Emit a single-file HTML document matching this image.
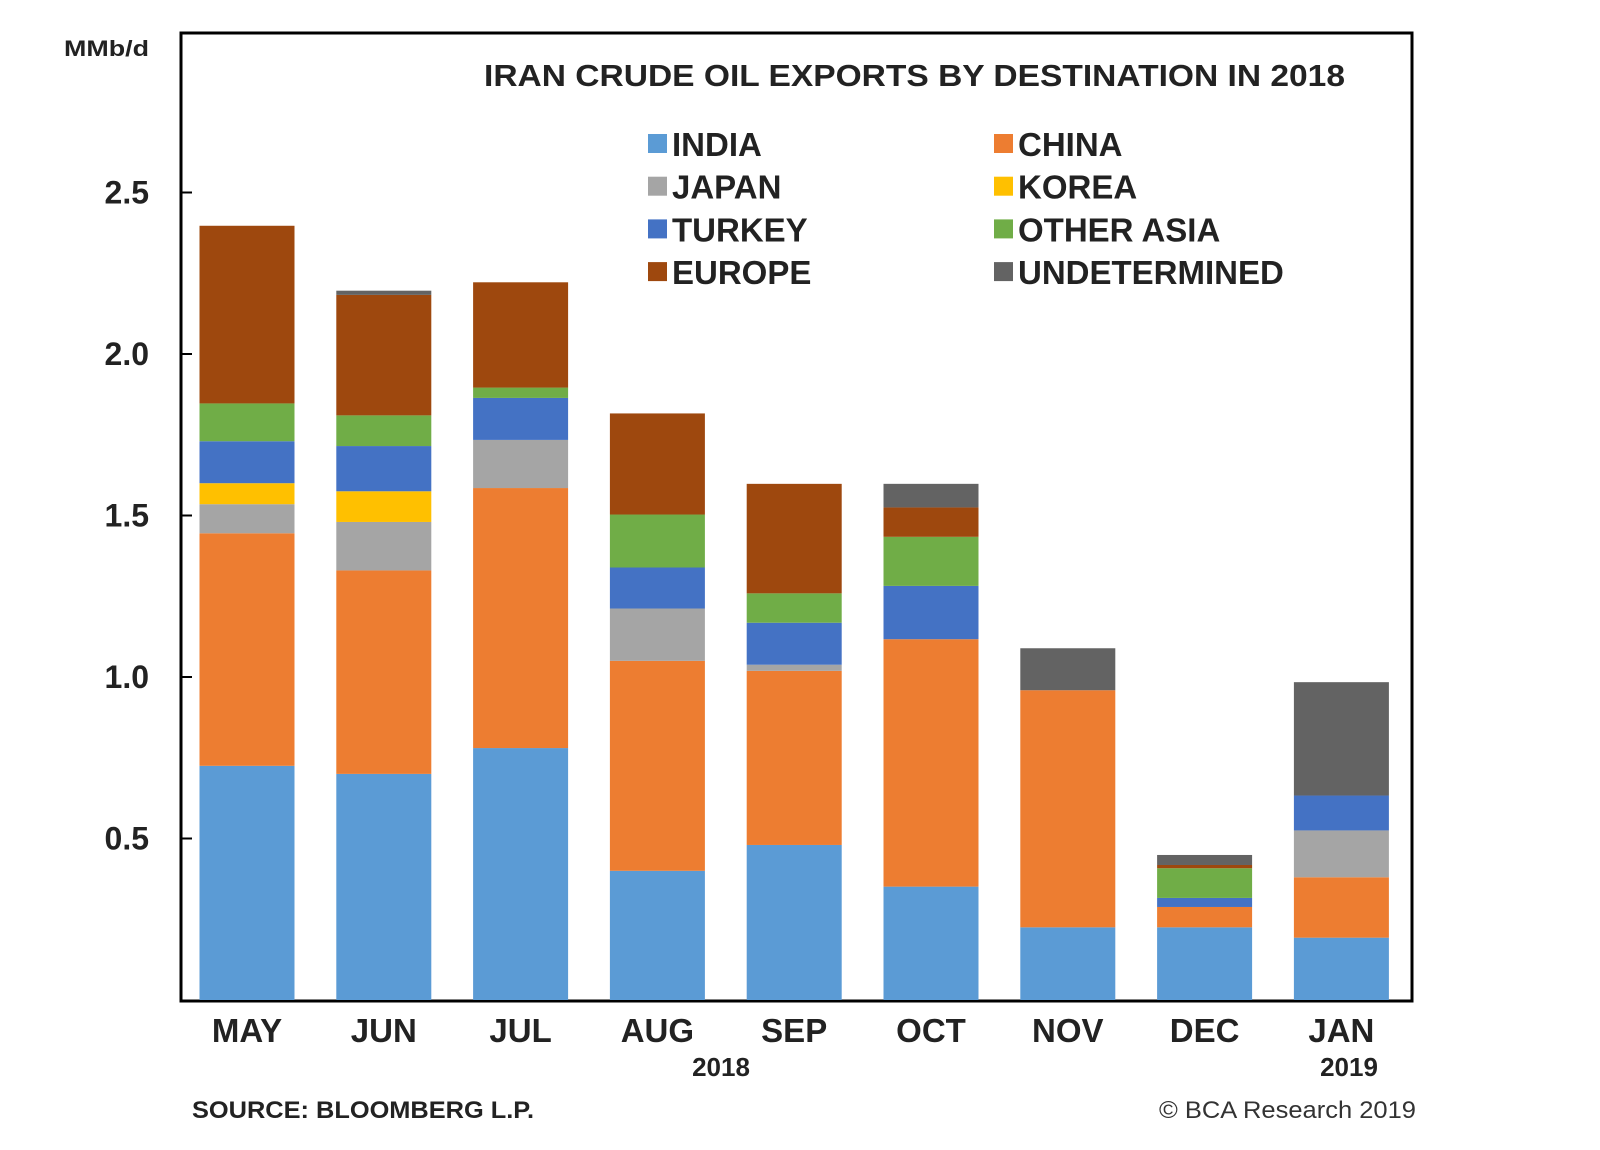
<!DOCTYPE html>
<html><head><meta charset="utf-8"><style>
html,body{margin:0;padding:0;background:#fff;}
svg{display:block;font-family:"Liberation Sans",Arial,sans-serif;}
</style></head><body>
<svg id="chart" width="1600" height="1150" viewBox="0 0 1600 1150">
<rect x="181" y="33" width="1231" height="968" fill="#fff" stroke="#000" stroke-width="3"/>
<g id="bars"></g>
<g id="yaxis"></g>
<g id="xaxis"></g>
<text x="64" y="56" font-size="22" font-weight="bold" fill="#222" textLength="85" lengthAdjust="spacingAndGlyphs">MMb/d</text>
<text x="484" y="86" font-size="31" font-weight="bold" fill="#222" textLength="861" lengthAdjust="spacingAndGlyphs">IRAN CRUDE OIL EXPORTS BY DESTINATION IN 2018</text>
<g id="legend"></g>
<text x="721" y="1076" font-size="26" font-weight="bold" text-anchor="middle" fill="#222">2018</text>
<text x="1349" y="1076" font-size="26" font-weight="bold" text-anchor="middle" fill="#222">2019</text>
<text x="192" y="1118" font-size="24" font-weight="bold" fill="#222" textLength="342" lengthAdjust="spacingAndGlyphs">SOURCE: BLOOMBERG L.P.</text>
<text x="1159" y="1118" font-size="24" fill="#333" textLength="257" lengthAdjust="spacingAndGlyphs">© BCA Research 2019</text>
</svg>
<script>
const categories = ["MAY","JUN","JUL","AUG","SEP","OCT","NOV","DEC","JAN"];
const seriesNames = ["INDIA","CHINA","JAPAN","KOREA","TURKEY","OTHER ASIA","EUROPE","UNDETERMINED"];
const india  = [0.725,0.70,0.78,0.40,0.48,0.351,0.225,0.225,0.193];
const china  = [0.72,0.63,0.805,0.65,0.539,0.766,0.734,0.063,0.187];
const japan  = [0.09,0.15,0.149,0.162,0.019,0,0,0,0.145];
const korea  = [0.065,0.095,0,0,0,0,0,0,0];
const turkey = [0.13,0.14,0.13,0.127,0.13,0.165,0,0.028,0.108];
const otherAsia = [0.117,0.095,0.032,0.164,0.091,0.152,0,0.092,0];
const europe = [0.55,0.373,0.326,0.313,0.339,0.091,0,0.01,0];
const undetermined = [0,0.013,0,0,0,0.073,0.13,0.031,0.351];
const yTicks = [0.5,1.0,1.5,2.0,2.5];
const yTickLabels = ["0.5","1.0","1.5","2.0","2.5"];

const series=[india,china,japan,korea,turkey,otherAsia,europe,undetermined];
const colors=["#5b9bd5","#ed7d31","#a5a5a5","#ffc000","#4472c4","#70ad47","#9e480e","#636363"];
const NS="http://www.w3.org/2000/svg";
const y0=1000, pxPerUnit=323;
function yScale(v){return y0 - v*pxPerUnit;}
function xCenter(i){return 247 + i*136.8;}
const barW=95;
function mk(tag,attrs,parent){const e=document.createElementNS(NS,tag);for(const k in attrs)e.setAttribute(k,attrs[k]);parent.appendChild(e);return e;}
const gb=document.getElementById('bars');
categories.forEach((c,i)=>{
  let cum=0;
  series.forEach((s,j)=>{
    const v=s[i]; if(!v) return;
    const yTop=yScale(cum+v), yBot=yScale(cum);
    const r=mk('rect',{x:xCenter(i)-barW/2,y:yTop,width:barW,height:yBot-yTop,fill:colors[j]},gb);
    
    
    cum+=v;
  });
});
const gy=document.getElementById('yaxis');
yTicks.forEach((t,k)=>{
  const y=yScale(t);
  const l=mk('line',{x1:181,x2:192,y1:y,y2:y,stroke:'#000','stroke-width':2},gy);
  
  
  const tx=mk('text',{x:149,y:y+11,'font-size':32,'font-weight':'bold','text-anchor':'end',fill:'#222'},gy);
  tx.textContent=yTickLabels[k];
  
  
});
const gx=document.getElementById('xaxis');
categories.forEach((c,i)=>{
  const tx=mk('text',{x:xCenter(i),y:1042,'font-size':33,'font-weight':'bold','text-anchor':'middle',fill:'#222'},gx);
  tx.textContent=c;
  
  
});
const gl=document.getElementById('legend');
seriesNames.forEach((n,j)=>{
  const col=j%2, row=Math.floor(j/2);
  const x=col?994:648, y=144+row*42.7;
  const r=mk('rect',{x:x,y:y-10,width:19,height:19,fill:colors[j]},gl);
  
  
  const t=mk('text',{x:x+24,y:y+12,'font-size':33,'font-weight':'bold',fill:'#222'},gl);
  t.textContent=n;
  
  
});
</script>
</body></html>
